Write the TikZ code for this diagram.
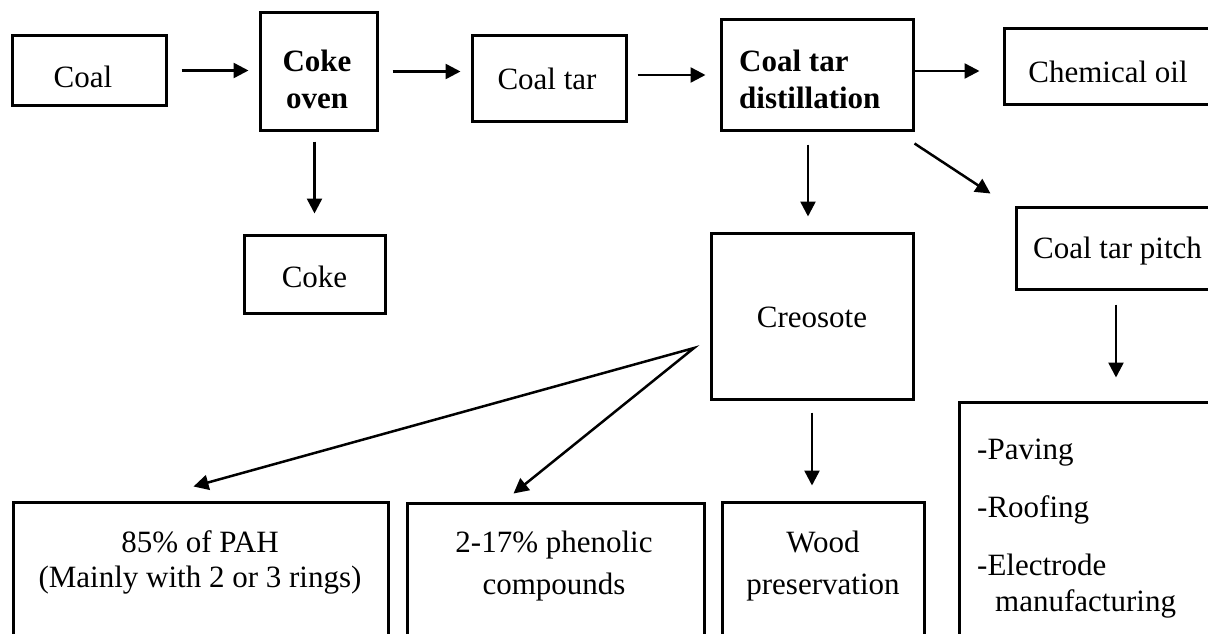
\documentclass[tikz,border=0pt]{standalone}
\usepackage{fontspec}
\setmainfont{Liberation Serif}
\usetikzlibrary{arrows.meta,fit,calc}
\tikzset{
  box/.style={draw, line width=3pt, inner sep=0pt},
  lbl/.style={font=\fontsize{31}{36}\selectfont, inner sep=0pt, anchor=base, align=center},
  blbl/.style={lbl, font=\fontsize{31}{36}\selectfont\bfseries},
  arr/.style={line width=2.5pt, -{Triangle[length=15pt,width=15pt]}},
  arrtwo/.style={line width=2.5pt, {Triangle[length=15pt,width=15pt]}-{Triangle[length=15pt,width=15pt]}, line join=miter},
}
\begin{document}
\begin{tikzpicture}[x=1pt,y=-1pt]
\path[use as bounding box] (0,0) rectangle (1208,634);
\clip (0,0) rectangle (1208,634);
\fill[white] (0,0) rectangle (1208,634);
% boxes
\node[box, fit={(12,36) (166,105)}] (coal) {};
\node[box, fit={(260,13) (377,130)}] (cokeoven) {};
\node[box, fit={(244,235) (385,313)}] (coke) {};
\node[box, fit={(472,36) (626,121)}] (coaltar) {};
\node[box, fit={(721,20) (913,130)}] (dist) {};
\node[box, fit={(1004,29) (1230,104)}] (chem) {};
\node[box, fit={(1016,207) (1230,289)}] (pitch) {};
\node[box, fit={(711,233) (913,399)}] (creo) {};
\node[box, fit={(959,402) (1230,660)}] (uses) {};
\node[box, fit={(722,502) (924,660)}] (wood) {};
\node[box, fit={(407,503) (704,660)}] (phen) {};
\node[box, fit={(13,502) (388,660)}] (pah) {};
% texts (base anchor = baseline of the last line)
\node[lbl] (coal-t) at (83,88) {Coal};
\node[blbl] (cokeoven-t) at (317,108) {Coke\\oven};
\node[lbl] (coke-t) at (314.5,287) {Coke};
\node[lbl] (coaltar-t) at (547,89) {Coal tar};
\node[blbl, anchor=base west, align=left] (dist-t) at (739,108) {Coal tar\\distillation};
\node[lbl] (chem-t) at (1108,82) {Chemical oil};
\node[lbl] (pitch-t) at (1117.5,258) {Coal tar pitch};
\node[lbl] (creo-t) at (812,327) {Creosote};
\node[lbl] (pah-t) at (200,587) {85\% of PAH\\[-1pt](Mainly with 2 or 3 rings)};
\node[lbl] (phen-t) at (554,594) {2-17\% phenolic\\[6pt]compounds};
\node[lbl] (wood-t) at (823,594) {Wood\\[6pt]preservation};
\node[lbl, anchor=base west, align=left] (uses-t) at (977,611) {-Paving\\[22pt]-Roofing\\[22pt]-Electrode\\\hspace*{18pt}manufacturing};
% connectors
\draw[arr, shorten <=14pt, shorten >=10pt] (coal.east) -- (coal.east -| cokeoven.west);
\draw[arr, shorten <=14pt, shorten >=10pt] (cokeoven.east) -- (cokeoven.east -| coaltar.west);
\draw[arr, shorten <=10pt, shorten >=14pt] (coaltar.east |- dist.west) -- (dist.west);
\draw[arr, shorten >=23pt] ([yshift=4pt]dist.east) -- ([yshift=4pt]dist.east -| chem.west);
\draw[arr, shorten <=10pt, shorten >=20pt] (cokeoven.south -| coke.north) -- (coke.north);
\draw[arr, shorten <=13pt, shorten >=15pt] ([xshift=-9pt]dist.south) -- ([xshift=-9pt]dist.south |- creo.north);
\draw[arr] ([yshift=-12pt]dist.south east) -- ([xshift=-24pt,yshift=12pt]pitch.north west);
\draw[arr, shorten <=14pt, shorten >=23pt] ([xshift=-7pt]pitch.south) -- ([xshift=-7pt]pitch.south |- uses.north);
\draw[arr, shorten <=12pt, shorten >=15pt] (creo.south) -- (creo.south |- wood.north);
\coordinate (fork) at (694,348);
\draw[arrtwo] ([xshift=-7pt,yshift=14pt]pah.north) -- (fork) -- ([xshift=-42pt,yshift=8pt]phen.north);
\end{tikzpicture}
\end{document}
